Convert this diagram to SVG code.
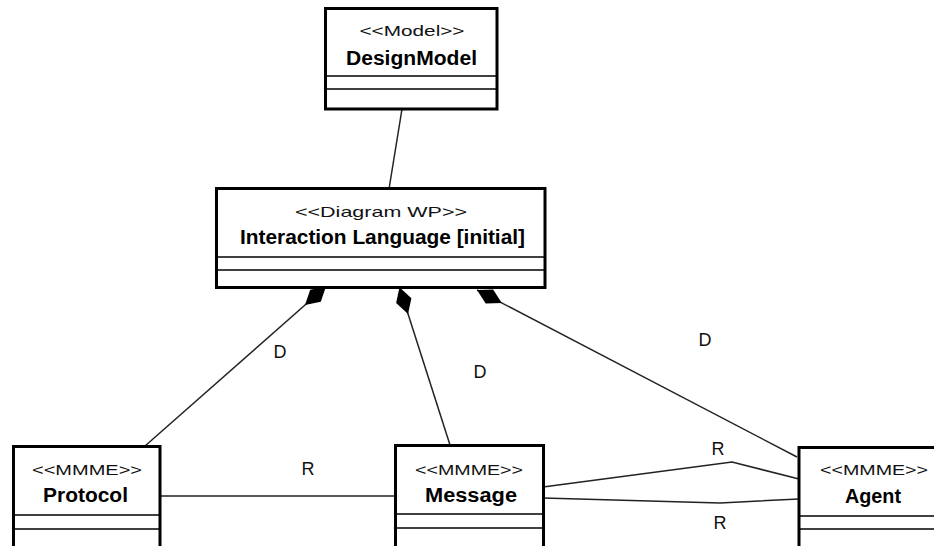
<svg xmlns="http://www.w3.org/2000/svg" width="934" height="546" viewBox="0 0 934 546">
<defs>
<style>
.box{fill:#fff;stroke:#000;stroke-width:3}
.comp{stroke:#000;stroke-width:1.6}
.st{font-family:"Liberation Sans",Arial,sans-serif;font-size:15px;fill:#111;text-anchor:middle}
.nm{font-family:"Liberation Sans",Arial,sans-serif;font-size:20px;font-weight:bold;fill:#000;text-anchor:middle}
.conn{fill:none;stroke:#222;stroke-width:1.5}
.lbl{font-family:"Liberation Sans",Arial,sans-serif;font-size:18px;fill:#111;text-anchor:middle}
</style>
<marker id="diamond" markerUnits="userSpaceOnUse" orient="auto" refX="0" refY="0" markerWidth="40" markerHeight="20" viewBox="-30 -10 32 20" overflow="visible">
<path d="M0,0 L-14,-8 L-28,0 L-14,8 Z" fill="#000"/>
</marker>
</defs>
<g id="connectors">
<line class="conn" x1="402" y1="109" x2="389" y2="189"/>
<line class="conn" x1="145" y1="446" x2="326" y2="286.5" marker-end="url(#diamond)"/>
<line class="conn" x1="450" y1="445" x2="399.5" y2="287.3" marker-end="url(#diamond)"/>
<line class="conn" x1="797" y1="457" x2="477" y2="290" marker-end="url(#diamond)"/>
<line class="conn" x1="160" y1="496" x2="395.5" y2="496"/>
<polyline class="conn" points="543,487 732,462 799,479"/>
<polyline class="conn" points="543,498 720,503 799,499"/>
<text class="lbl" x="280" y="358">D</text>
<text class="lbl" x="480" y="378">D</text>
<text class="lbl" x="705" y="346">D</text>
<text class="lbl" x="308" y="475">R</text>
<text class="lbl" x="718" y="455">R</text>
<text class="lbl" x="720" y="529">R</text>
</g>
<g id="DesignModel">
<rect class="box" x="325.5" y="8.5" width="171.5" height="100.5"/>
<line class="comp" x1="325.5" y1="76" x2="497" y2="76"/>
<line class="comp" x1="325.5" y1="89" x2="497" y2="89"/>
<text class="st" x="412" y="36" textLength="105" lengthAdjust="spacingAndGlyphs">&lt;&lt;Model&gt;&gt;</text>
<text class="nm" x="411.5" y="65" textLength="131" lengthAdjust="spacingAndGlyphs">DesignModel</text>
</g>
<g id="InteractionLanguage">
<rect class="box" x="216.5" y="188.5" width="328.5" height="99"/>
<line class="comp" x1="216.5" y1="257" x2="545" y2="257"/>
<line class="comp" x1="216.5" y1="270" x2="545" y2="270"/>
<text class="st" x="381" y="217" textLength="172" lengthAdjust="spacingAndGlyphs">&lt;&lt;Diagram WP&gt;&gt;</text>
<text class="nm" x="382.5" y="244" textLength="285" lengthAdjust="spacingAndGlyphs">Interaction Language [initial]</text>
</g>
<g id="Protocol">
<rect class="box" x="13.5" y="446.5" width="146.5" height="110"/>
<line class="comp" x1="13.5" y1="515" x2="160" y2="515"/>
<line class="comp" x1="13.5" y1="529" x2="160" y2="529"/>
<text class="st" x="87" y="475" textLength="110" lengthAdjust="spacingAndGlyphs">&lt;&lt;MMME&gt;&gt;</text>
<text class="nm" x="85.5" y="502" textLength="85" lengthAdjust="spacingAndGlyphs">Protocol</text>
</g>
<g id="Message">
<rect class="box" x="395.5" y="445.5" width="148" height="110"/>
<line class="comp" x1="395.5" y1="514" x2="543.5" y2="514"/>
<line class="comp" x1="395.5" y1="528" x2="543.5" y2="528"/>
<text class="st" x="469" y="475" textLength="108" lengthAdjust="spacingAndGlyphs">&lt;&lt;MMME&gt;&gt;</text>
<text class="nm" x="471" y="502" textLength="92" lengthAdjust="spacingAndGlyphs">Message</text>
</g>
<g id="Agent">
<rect class="box" x="799" y="447.5" width="147" height="110"/>
<line class="comp" x1="799" y1="516" x2="946" y2="516"/>
<line class="comp" x1="799" y1="529" x2="946" y2="529"/>
<text class="st" x="874" y="475" textLength="108" lengthAdjust="spacingAndGlyphs">&lt;&lt;MMME&gt;&gt;</text>
<text class="nm" x="873" y="503" textLength="56" lengthAdjust="spacingAndGlyphs">Agent</text>
</g>
</svg>
